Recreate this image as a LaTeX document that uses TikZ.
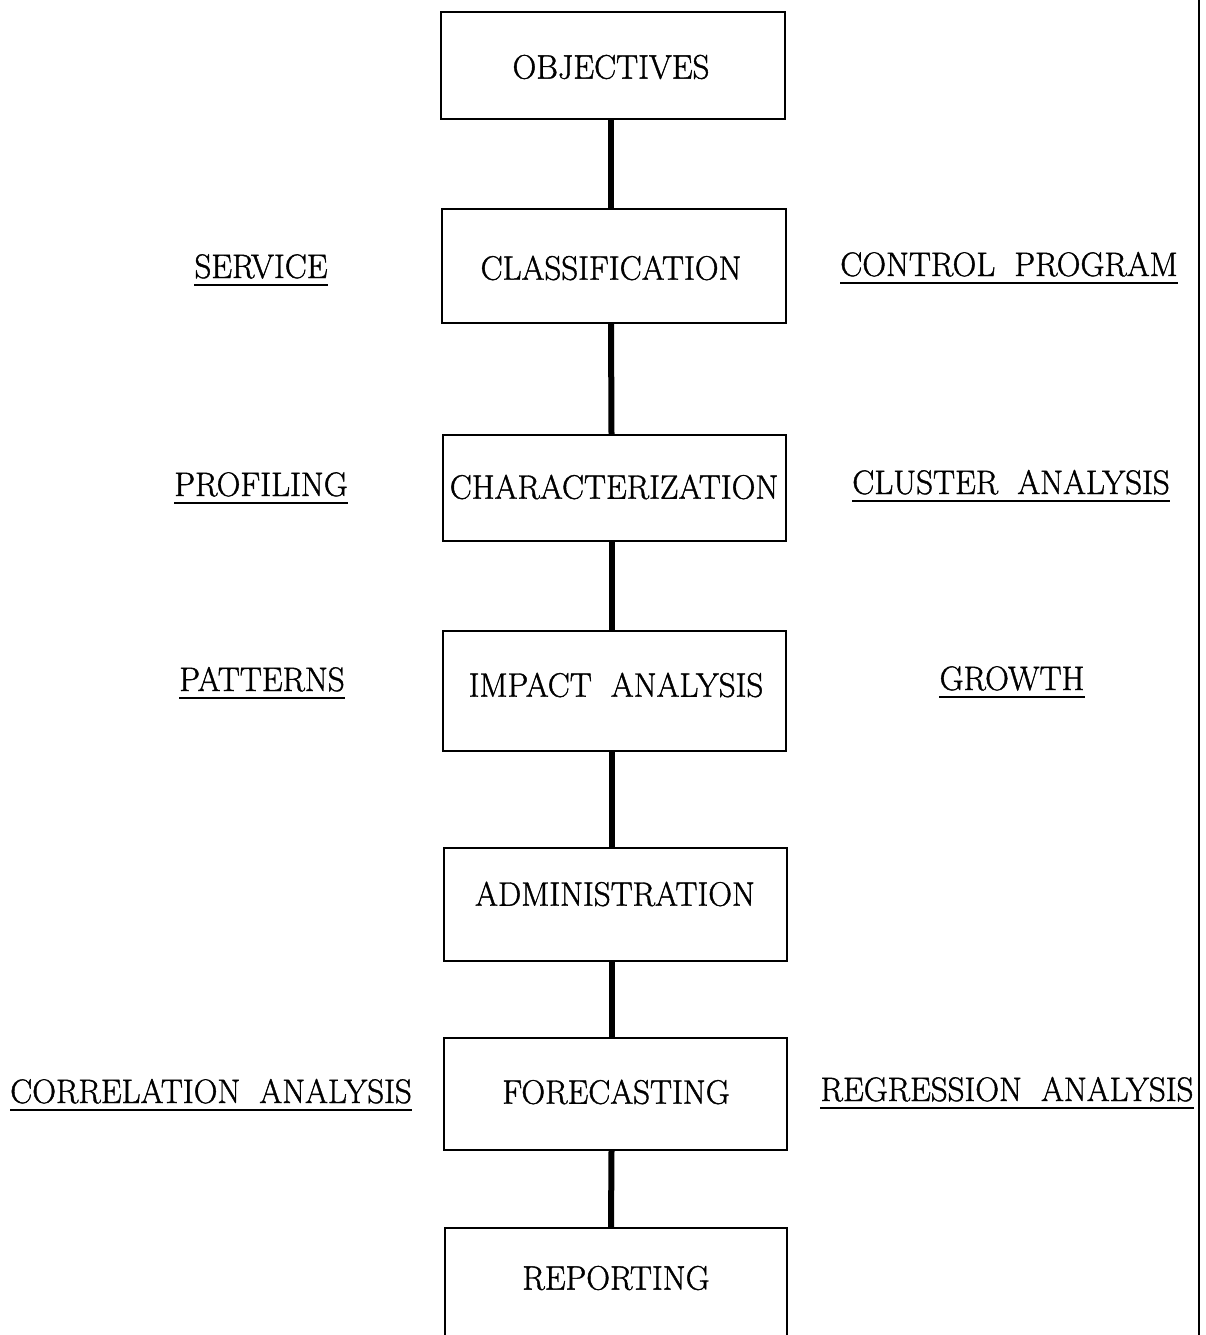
\documentclass[tikz,border=0pt]{standalone}
\usepackage{graphicx}
\usepackage{fontspec}
\newfontfamily\cfont{Latin Modern Roman}[FakeBold=1.2]
\newcommand{\sq}[1]{\scalebox{0.97}[1]{#1}}
\newcommand{\wsp}{\hspace{0.58em}}
\begin{document}
\begin{tikzpicture}[x=1pt,y=-1pt,
  box/.style={draw, line width=1.4pt, inner sep=0pt},
  lbl/.style={font=\cfont\fontsize{34}{38}\selectfont, inner sep=0pt},
  side/.style={font=\cfont\fontsize{34}{38}\selectfont, inner xsep=0pt, inner ysep=6pt, anchor=base},
  conn/.style={line width=6pt},
  ul/.style={line width=2.2pt}]
\useasboundingbox (0,0) rectangle (1205,1335);
\clip (0,0) rectangle (1205,1335);
% boxes
\node[box, minimum width=344pt, minimum height=107pt] (obj) at (613,65.5) {};
\node[box, minimum width=344pt, minimum height=114pt] (cls) at (614,266) {};
\node[box, minimum width=343pt, minimum height=106pt] (chr) at (614.5,488) {};
\node[box, minimum width=343pt, minimum height=120pt] (imp) at (614.5,691) {};
\node[box, minimum width=343pt, minimum height=113pt] (adm) at (615.5,904.5) {};
\node[box, minimum width=343pt, minimum height=112pt] (for) at (615.5,1094) {};
\node[box, minimum width=342pt, minimum height=124pt] (rep) at (616,1290) {};
% box texts
\node[lbl] (objt) at (611,67) {\sq{OBJECTIVES}};
\node[lbl] (clst) at (611,268) {\sq{CLASSIFICATION}};
\node[lbl] (chrt) at (614,487) {\sq{CHARACTERIZATION}};
\node[lbl] (impt) at (616,685) {\sq{IMPACT\wsp ANALYSIS}};
\node[lbl] (admt) at (615,894) {\sq{ADMINISTRATION}};
\node[lbl] (fort) at (616,1092) {\sq{FORECASTING}};
\node[lbl] (rept) at (616,1278) {\sq{REPORTING}};
% connectors
\draw[conn] ([xshift=-2pt]obj.south) -- ([xshift=-3pt]cls.north);
\draw[conn] ([xshift=-3pt]cls.south) -- ([xshift=-3pt]chr.north);
\draw[conn] ([xshift=-3pt]chr.south) -- ([xshift=-3pt]imp.north);
\draw[conn] ([xshift=-3pt]imp.south) -- ([xshift=-4pt]adm.north);
\draw[conn] ([xshift=-4pt]adm.south) -- ([xshift=-4pt]for.north);
\draw[conn] ([xshift=-4pt]for.south) -- ([xshift=-5pt]rep.north);
% side labels
\node[side] (svc) at (261,278) {\sq{SERVICE}};
\node[side] (ctl) at (1009,276) {\sq{CONTROL\wsp PROGRAM}};
\node[side] (prf) at (261,496) {\sq{PROFILING}};
\node[side] (cla) at (1011,494) {\sq{CLUSTER\wsp ANALYSIS}};
\node[side] (pat) at (262,691) {\sq{PATTERNS}};
\node[side] (gro) at (1012,690) {\sq{GROWTH}};
\node[side] (cor) at (211,1103) {\sq{CORRELATION\wsp ANALYSIS}};
\node[side] (reg) at (1007,1101) {\sq{REGRESSION\wsp ANALYSIS}};
\foreach \n in {svc,ctl,prf,cla,pat,gro,cor,reg}
  \draw[ul] (\n.south west) -- (\n.south east);
% right rule
\coordinate (rt) at (1199,0);
\coordinate (rb) at (1199,1335);
\draw[line width=2pt] (rt) -- (rb);
\end{tikzpicture}
\end{document}
